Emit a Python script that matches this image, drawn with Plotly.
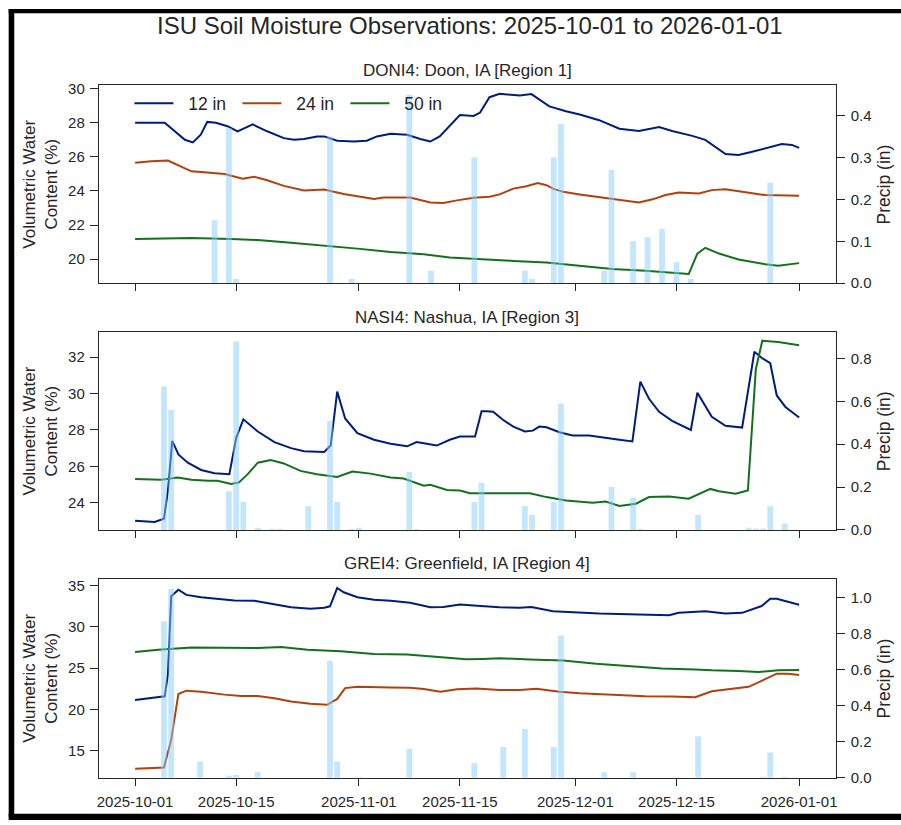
import pandas as pd
import plotly.graph_objects as go

# ---------------- data (day offsets from 2025-10-01) ----------------
BASE_DATE = "2025-10-01"

DONI4_12_DAYS = [0, 4.1, 6.9, 8, 9.1, 10, 11.2, 12.8, 14.2, 16.3, 18.3, 20.6, 22, 23.4, 25.2, 26.2, 28, 30.3,
                 32.1, 33.5, 35.4, 37.7, 39.5, 40.9, 42.2, 43.6, 45, 46.9, 47.8, 49.1, 50.5, 53.3, 54.9, 57.4,
                 59.7, 61.6, 64.3, 67.1, 69.8, 72.6, 74.4, 77.2, 79, 81.8, 83.6, 85.5, 87.3, 89.6, 91, 92]
DONI4_12_VALS = [28.0, 28.0, 27.0, 26.85, 27.3, 28.05, 28.0, 27.8, 27.5, 27.9, 27.5, 27.1, 27.0, 27.05, 27.2,
                 27.2, 26.95, 26.9, 26.95, 27.2, 27.35, 27.3, 27.05, 26.9, 27.2, 27.8, 28.45, 28.4, 28.6, 29.5,
                 29.7, 29.6, 29.68, 28.96, 28.67, 28.48, 28.15, 27.65, 27.52, 27.75, 27.52, 27.23, 27.0, 26.17,
                 26.11, 26.3, 26.5, 26.75, 26.7, 26.53]
DONI4_24_DAYS = [0, 2.25, 4.55, 5.9, 7.8, 9.6, 12.4, 14.9, 16.5, 18.3, 20.6, 23.4, 26.2, 28.9, 31.7, 33.1, 34.4,
                 38.1, 40.9, 42.7, 44.6, 46.9, 49.1, 50.5, 52.4, 54.2, 55.8, 57, 57.9, 59.3, 61.6, 65.2, 68,
                 69.8, 71.7, 73.5, 75.3, 78.1, 79.9, 81.8, 84.5, 87.3, 92]
DONI4_24_VALS = [25.65, 25.74, 25.78, 25.5, 25.15, 25.1, 24.99, 24.72, 24.84, 24.63, 24.3, 24.03, 24.09, 23.82,
                 23.6, 23.53, 23.62, 23.62, 23.32, 23.3, 23.45, 23.6, 23.66, 23.8, 24.14, 24.28, 24.47, 24.34,
                 24.14, 23.95, 23.8, 23.57, 23.43, 23.33, 23.51, 23.76, 23.91, 23.85, 24.05, 24.1, 23.95, 23.76,
                 23.72]
DONI4_50_DAYS = [0, 7.8, 13.3, 17, 21.6, 26.2, 30.8, 35.4, 40, 43.6, 46.9, 52.4, 57, 61.6, 66.1, 70.7, 74.4,
                 76.7, 77.9, 79, 80.9, 83.6, 87.3, 89.1, 92]
DONI4_50_VALS = [21.19, 21.25, 21.19, 21.12, 20.96, 20.81, 20.62, 20.42, 20.29, 20.1, 20.04, 19.9, 19.8, 19.6,
                 19.42, 19.32, 19.19, 19.13, 20.33, 20.67, 20.33, 19.98, 19.71, 19.61, 19.77]
DONI4_PRECIP_DAYS = [11, 13, 14, 27, 30, 38, 41, 47, 54, 55, 58, 59, 65, 66, 69, 71, 73, 75, 77, 88]
DONI4_PRECIP_VALS = [0.15, 0.37, 0.01, 0.35, 0.01, 0.45, 0.03, 0.30, 0.03, 0.01, 0.30, 0.38, 0.03, 0.27, 0.10,
                     0.11, 0.13, 0.05, 0.01, 0.24]

NASI4_12_DAYS = [0, 2.7, 4.0, 4.55, 5.15, 6.0, 7.3, 9.15, 11.0, 13.06, 14.0, 15.0, 17.0, 19.3, 21.6, 23.4, 26.2,
                 27.1, 28.0, 29.1, 30.8, 33.1, 35.4, 37.7, 39.0, 40.4, 41.8, 43.6, 45, 47.1, 48.0, 48.7, 49.6,
                 51, 52.4, 54, 55.1, 56.0, 57, 58.8, 60.6, 62.9, 65.2, 67.1, 68.9, 70, 71.2, 72.6, 74.4, 75.8,
                 77.0, 77.9, 79, 79.9, 81.8, 83.6, 84.1, 85.8, 86.8, 88, 88.9, 90.1, 92]
NASI4_12_VALS = [23.01, 22.94, 23.12, 24.67, 27.4, 26.65, 26.2, 25.8, 25.62, 25.57, 27.55, 28.58, 27.91, 27.33,
                 27.0, 26.83, 26.79, 27.15, 30.1, 28.63, 27.82, 27.46, 27.24, 27.1, 27.33, 27.24, 27.14, 27.46,
                 27.64, 27.64, 29.03, 29.03, 29.0, 28.54, 28.18, 27.91, 27.96, 28.18, 28.14, 27.87, 27.69, 27.69,
                 27.55, 27.46, 27.37, 30.65, 29.71, 28.99, 28.5, 28.23, 28.0, 30.04, 29.32, 28.72, 28.23, 28.16,
                 28.13, 32.29, 31.96, 31.66, 29.89, 29.26, 28.68]
NASI4_50_DAYS = [0, 3.6, 5.9, 7.8, 10.1, 11.4, 13.3, 14.4, 15.6, 17, 18.8, 20.6, 22.9, 25.2, 28, 30.1, 32.6,
                 35.4, 37.2, 40, 40.9, 43.2, 45, 46.4, 51.9, 54.7, 57, 59.7, 63.4, 65.2, 67.1, 69.4, 71.2, 74,
                 76.7, 78.1, 79.7, 80.9, 83.2, 84.9, 86, 86.9, 89.1, 92]
NASI4_50_VALS = [25.3, 25.26, 25.39, 25.26, 25.21, 25.21, 25.03, 25.12, 25.57, 26.2, 26.34, 26.16, 25.75, 25.57,
                 25.42, 25.71, 25.6, 25.39, 25.33, 24.94, 24.99, 24.7, 24.67, 24.52, 24.52, 24.52, 24.31, 24.13,
                 24.0, 24.07, 23.82, 23.95, 24.31, 24.34, 24.22, 24.49, 24.76, 24.63, 24.49, 24.67, 31.33, 32.9,
                 32.83, 32.65]
NASI4_PRECIP_DAYS = [4, 5, 13, 14, 15, 17, 19, 20, 24, 27, 28, 30, 31, 38, 39, 47, 48, 54, 55, 58, 59, 66, 69,
                     70, 78, 85, 86, 87, 88, 90]
NASI4_PRECIP_VALS = [0.67, 0.56, 0.18, 0.88, 0.13, 0.01, 0.005, 0.005, 0.11, 0.51, 0.13, 0.005, 0.01, 0.27,
                     0.005, 0.13, 0.22, 0.11, 0.07, 0.13, 0.59, 0.2, 0.15, 0.005, 0.07, 0.01, 0.006, 0.006,
                     0.11, 0.03]

GREI4_12_DAYS = [0, 2.0, 4.1, 4.55, 5.0, 6.0, 7.1, 9.15, 11.45, 13.75, 16.5, 18.8, 21.6, 24.3, 26.2, 27, 28,
                 28.9, 30.8, 33.1, 35.4, 38.1, 40.9, 42.7, 45, 46.9, 49.1, 50.5, 53.3, 54.9, 57.9, 60.6, 64.3,
                 68.4, 72.6, 74, 75.3, 77.2, 79, 81.8, 84.1, 86.8, 88, 88.9, 90.5, 92]
GREI4_12_VALS = [21.16, 21.4, 21.6, 24.26, 33.73, 34.52, 33.89, 33.6, 33.41, 33.21, 33.17, 32.81, 32.38, 32.22,
                 32.34, 32.5, 34.72, 34.2, 33.6, 33.29, 33.17, 32.93, 32.38, 32.42, 32.73, 32.61, 32.46, 32.38,
                 32.34, 32.42, 31.9, 31.75, 31.63, 31.55, 31.51, 31.43, 31.71, 31.83, 31.9, 31.63, 31.71, 32.54,
                 33.41, 33.41, 33.01, 32.69]
GREI4_24_DAYS = [0, 4, 5.0, 6.0, 7.1, 9.15, 12.4, 14.7, 17, 19.3, 21.6, 24.3, 26.6, 28, 29.1, 30.8, 35.4, 38.1,
                 40, 42.3, 44.6, 47.3, 50.5, 53.3, 55.6, 58.8, 61.6, 66.1, 70.7, 74.4, 77.6, 79.9, 82.7, 85,
                 86.8, 88.9, 90.5, 92]
GREI4_24_VALS = [12.81, 12.97, 16.31, 21.88, 22.28, 22.16, 21.8, 21.64, 21.64, 21.36, 20.96, 20.69, 20.57, 21.28,
                 22.59, 22.75, 22.67, 22.63, 22.48, 22.16, 22.44, 22.55, 22.36, 22.36, 22.51, 22.16, 21.96, 21.76,
                 21.6, 21.56, 21.48, 22.2, 22.48, 22.75, 23.47, 24.34, 24.34, 24.19]
GREI4_50_DAYS = [0, 3.2, 7.8, 12.4, 17, 20.2, 23.9, 28.5, 33.1, 37.7, 42.3, 45.9, 48.2, 50.5, 54.7, 59.3, 63.9,
                 68.4, 73, 77.6, 79.9, 83.6, 86.4, 89.1, 92]
GREI4_50_VALS = [26.97, 27.25, 27.52, 27.45, 27.45, 27.56, 27.25, 27.05, 26.73, 26.65, 26.33, 26.09, 26.13, 26.21,
                 26.05, 25.93, 25.54, 25.26, 24.98, 24.86, 24.74, 24.66, 24.54, 24.74, 24.78]
GREI4_PRECIP_DAYS = [4, 5, 9, 13, 14, 17, 27, 28, 31, 38, 47, 51, 54, 58, 59, 65, 69, 75, 78, 87, 88, 90]
GREI4_PRECIP_VALS = [0.87, 1.05, 0.09, 0.01, 0.015, 0.03, 0.65, 0.09, 0.005, 0.16, 0.08, 0.17, 0.27, 0.17, 0.79,
                     0.03, 0.03, 0.005, 0.23, 0.005, 0.14, 0.005]

TITLE = "ISU Soil Moisture Observations: 2025-10-01 to 2026-01-01"
PANEL_TITLES = ["DONI4: Doon, IA [Region 1]", "NASI4: Nashua, IA [Region 3]", "GREI4: Greenfield, IA [Region 4]"]
SERIES_NAMES = ["12 in", "24 in", "50 in"]
X_TICKS = ["2025-10-01", "2025-10-15", "2025-11-01", "2025-11-15", "2025-12-01", "2025-12-15", "2026-01-01"]

# ---------------- styling ----------------
W, H = 901, 825
FONT = "Liberation Sans, Arial, Helvetica, sans-serif"
INK = "#262626"
COLORS = {"12 in": "#001c7f", "24 in": "#b1400d", "50 in": "#12711c"}
BAR_COLOR = "rgba(135,206,250,0.5)"
LEGEND_PAD = "\u00a0\u00a0"

base = pd.Timestamp(BASE_DATE)


def to_dates(days):
    return [base + pd.to_timedelta(d, unit="D") for d in days]


def px_x(p):
    return p / W


def px_y(p):
    return 1 - p / H


X_DOM = [px_x(97.3), px_x(837.3)]
Y_DOMS = [[px_y(282.7), px_y(81.7)], [px_y(533.3), px_y(332.7)], [px_y(785), px_y(583.3)]]
LEFT_RANGES = [[18.59, 30.19], [22.51, 33.35], [11.74, 35.8]]
LEFT_DTICK = [2, 2, 5]
RIGHT_RANGES = [[0, 0.472], [0, 0.922], [0, 1.104]]
RIGHT_DTICK = [0.1, 0.2, 0.2]
x_range = [base + pd.Timedelta(days=-5.02), base + pd.Timedelta(days=97.05)]

panels = [
    {"12 in": (DONI4_12_DAYS, DONI4_12_VALS), "24 in": (DONI4_24_DAYS, DONI4_24_VALS),
     "50 in": (DONI4_50_DAYS, DONI4_50_VALS), "precip": (DONI4_PRECIP_DAYS, DONI4_PRECIP_VALS)},
    {"12 in": (NASI4_12_DAYS, NASI4_12_VALS),
     "50 in": (NASI4_50_DAYS, NASI4_50_VALS), "precip": (NASI4_PRECIP_DAYS, NASI4_PRECIP_VALS)},
    {"12 in": (GREI4_12_DAYS, GREI4_12_VALS), "24 in": (GREI4_24_DAYS, GREI4_24_VALS),
     "50 in": (GREI4_50_DAYS, GREI4_50_VALS), "precip": (GREI4_PRECIP_DAYS, GREI4_PRECIP_VALS)},
]

fig = go.Figure()
layout = {}
annotations = []

for i, pdata in enumerate(panels):
    xa = "x" if i == 0 else f"x{i + 1}"
    ya_l = "y" if i == 0 else f"y{2 * i + 1}"
    ya_r = f"y{2 * i + 2}"
    for name in SERIES_NAMES:
        if name not in pdata:
            continue
        d, v = pdata[name]
        fig.add_trace(go.Scatter(x=to_dates(d), y=v, mode="lines", name=LEGEND_PAD + name,
                                 line=dict(color=COLORS[name], width=2),
                                 showlegend=(i == 0), xaxis=xa, yaxis=ya_l))
    d, v = pdata["precip"]
    fig.add_trace(go.Bar(x=to_dates(d), y=v, width=0.8 * 86400000, marker=dict(color=BAR_COLOR, line=dict(width=0)),
                         showlegend=False, xaxis=xa, yaxis=ya_r))

    xkey = "xaxis" if i == 0 else f"xaxis{i + 1}"
    ylkey = "yaxis" if i == 0 else f"yaxis{2 * i + 1}"
    yrkey = f"yaxis{2 * i + 2}"
    layout[xkey] = dict(domain=X_DOM, anchor=ya_l, type="date", range=x_range,
                        tickvals=X_TICKS, tickformat="%Y-%m-%d", showticklabels=(i == 2),
                        ticks="outside", ticklen=7, tickwidth=1.25, tickcolor=INK,
                        showline=True, linecolor=INK, linewidth=1.25, mirror=True,
                        showgrid=False, zeroline=False, ticklabelstandoff=3,
                        tickfont=dict(family=FONT, size=15, color=INK))
    if i > 0:
        layout[xkey]["matches"] = "x"
    layout[ylkey] = dict(domain=Y_DOMS[i], anchor=xa, range=LEFT_RANGES[i], dtick=LEFT_DTICK[i], tick0=0,
                         ticks="outside", ticklen=8, tickwidth=1.25, tickcolor=INK,
                         showline=True, linecolor=INK, linewidth=1.25,
                         showgrid=False, zeroline=False, ticklabelstandoff=2,
                         tickfont=dict(family=FONT, size=15, color=INK))
    layout[yrkey] = dict(domain=Y_DOMS[i], anchor=xa, overlaying=ya_l, side="right",
                         range=RIGHT_RANGES[i], dtick=RIGHT_DTICK[i], tick0=0, tickformat=".1f",
                         ticks="outside", ticklen=8, tickwidth=1.25, tickcolor=INK,
                         showline=True, linecolor=INK, linewidth=1.25,
                         showgrid=False, zeroline=False, ticklabelstandoff=3,
                         tickfont=dict(family=FONT, size=15, color=INK))
    ymid = (Y_DOMS[i][0] + Y_DOMS[i][1]) / 2
    annotations.append(dict(text=PANEL_TITLES[i], xref="paper", yref="paper",
                            x=(X_DOM[0] + X_DOM[1]) / 2, y=Y_DOMS[i][1] + 15.5 / H,
                            xanchor="center", yanchor="middle", showarrow=False,
                            font=dict(family=FONT, size=17, color=INK)))
    annotations.append(dict(text="Volumetric Water<br>Content (%)", xref="paper", yref="paper",
                            x=px_x(38.5), y=ymid, xanchor="center", yanchor="middle", textangle=-90,
                            showarrow=False, font=dict(family=FONT, size=17, color=INK)))
    annotations.append(dict(text="Precip (in)", xref="paper", yref="paper",
                            x=px_x(886), y=ymid, xanchor="center", yanchor="middle", textangle=-90,
                            showarrow=False, font=dict(family=FONT, size=17.5, color=INK)))

annotations.append(dict(text=TITLE, xref="paper", yref="paper", x=px_x(470), y=px_y(21),
                        xanchor="center", yanchor="middle", showarrow=False,
                        font=dict(family=FONT, size=24, color=INK)))

shapes = [
    dict(type="rect", xref="paper", yref="paper", x0=px_x(6.7), x1=px_x(12.3), y0=px_y(825), y1=px_y(4),
         fillcolor="black", line=dict(width=0), layer="above"),
    dict(type="rect", xref="paper", yref="paper", x0=px_x(6.7), x1=px_x(905), y0=px_y(8.3), y1=px_y(4),
         fillcolor="black", line=dict(width=0), layer="above"),
    dict(type="rect", xref="paper", yref="paper", x0=px_x(6.7), x1=px_x(905), y0=px_y(828), y1=px_y(821.7),
         fillcolor="black", line=dict(width=0), layer="above"),
]

fig.update_layout(
    width=W, height=H, autosize=False,
    margin=dict(l=0, r=0, t=0, b=0, pad=0),
    paper_bgcolor="white", plot_bgcolor="white",
    font=dict(family=FONT, color=INK),
    barmode="overlay",
    showlegend=True,
    legend=dict(orientation="h", x=px_x(128), y=px_y(100), xanchor="left", yanchor="middle",
                bgcolor="rgba(0,0,0,0)", borderwidth=0, itemwidth=39, entrywidth=54, entrywidthmode="pixels",
                font=dict(family=FONT, size=17.5, color=INK)),
    annotations=annotations,
    shapes=shapes,
    **layout,
)

fig.write_html("out.html", config={"displayModeBar": False},
               post_script="document.body.style.margin='0';")
